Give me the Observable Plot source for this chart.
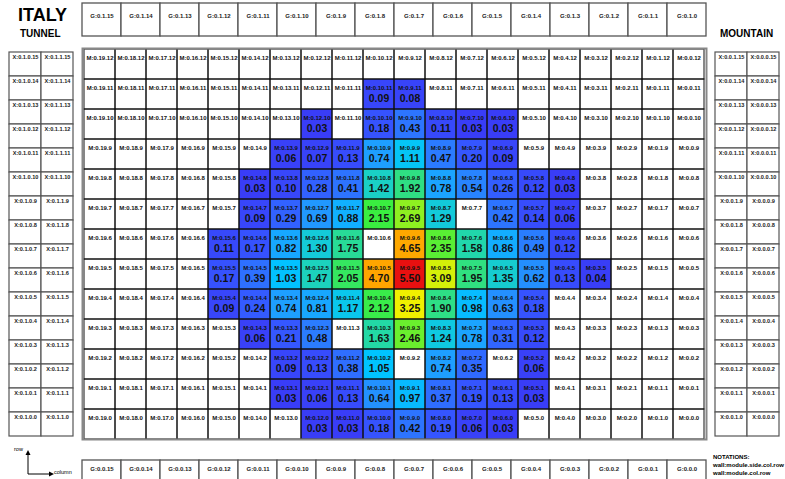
<!DOCTYPE html>
<html><head><meta charset="utf-8">
<script src="https://cdn.jsdelivr.net/npm/d3@7"></script>
<script src="https://cdn.jsdelivr.net/npm/@observablehq/plot@0.6"></script>
<style>
body{margin:0;background:#fff;font-family:"Liberation Sans",Arial,sans-serif;}
#root{position:relative;width:785px;height:479px;overflow:hidden;background:#fff;}
.p{position:absolute;}
.t{position:absolute;font-weight:bold;color:#000;white-space:nowrap;line-height:1;}
</style></head><body><div id="root"></div>
<script>
// ---------- data ----------
const _ = null;
const cols = [19,18,17,16,15,14,13,12,11,10,9,8,7,6,5,4,3,2,1,0];
const rows = [12,11,10,9,8,7,6,5,4,3,2,1,0];
const r12 = [_,_,_,_,_,_,_,_,_,_,_,_,_,_,_,_,_,_,_,_];
const r11 = [_,_,_,_,_,_,_,_,_,0.09,0.08,_,_,_,_,_,_,_,_,_];
const r10 = [_,_,_,_,_,_,_,0.03,_,0.18,0.43,0.11,0.03,0.03,_,_,_,_,_,_];
const r9  = [_,_,_,_,_,_,0.06,0.07,0.13,0.74,1.11,0.47,0.20,0.09,_,_,_,_,_,_];
const r8  = [_,_,_,_,_,0.03,0.10,0.28,0.41,1.42,1.92,0.78,0.54,0.26,0.12,0.03,_,_,_,_];
const r7  = [_,_,_,_,_,0.09,0.29,0.69,0.88,2.15,2.69,1.29,_,0.42,0.14,0.06,_,_,_,_];
const r6  = [_,_,_,_,0.11,0.17,0.82,1.30,1.75,_,4.65,2.35,1.58,0.86,0.49,0.12,_,_,_,_];
const r5  = [_,_,_,_,0.17,0.39,1.03,1.47,2.05,4.70,5.50,3.09,1.95,1.35,0.62,0.13,0.04,_,_,_];
const r4  = [_,_,_,_,0.09,0.24,0.74,0.81,1.17,2.12,3.25,1.90,0.98,0.63,0.18,_,_,_,_,_];
const r3  = [_,_,_,_,_,0.06,0.21,0.48,_,1.63,2.46,1.24,0.78,0.31,0.12,_,_,_,_,_];
const r2  = [_,_,_,_,_,_,0.09,0.13,0.38,1.05,_,0.74,0.35,_,0.06,_,_,_,_,_];
const r1  = [_,_,_,_,_,_,0.03,0.06,0.13,0.64,0.97,0.37,0.19,0.13,0.03,_,_,_,_,_];
const r0  = [_,_,_,_,_,_,_,0.03,0.03,0.18,0.42,0.19,0.06,0.03,_,_,_,_,_,_];
const rowValues = [r12,r11,r10,r9,r8,r7,r6,r5,r4,r3,r2,r1,r0];

const gTop = ["G:0.1.15","G:0.1.14","G:0.1.13","G:0.1.12","G:0.1.11","G:0.1.10","G:0.1.9","G:0.1.8","G:0.1.7","G:0.1.6","G:0.1.5","G:0.1.4","G:0.1.3","G:0.1.2","G:0.1.1","G:0.1.0"];
const gBottom = ["G:0.0.15","G:0.0.14","G:0.0.13","G:0.0.12","G:0.0.11","G:0.0.10","G:0.0.9","G:0.0.8","G:0.0.7","G:0.0.6","G:0.0.5","G:0.0.4","G:0.0.3","G:0.0.2","G:0.0.1","G:0.0.0"];
const sideRows = [15,14,13,12,11,10,9,8,7,6,5,4,3,2,1,0];
const xLeftA = sideRows.map(r => `X:0.1.0.${r}`);
const xLeftB = sideRows.map(r => `X:0.1.1.${r}`);
const xRightA = sideRows.map(r => `X:0.0.1.${r}`);
const xRightB = sideRows.map(r => `X:0.0.0.${r}`);

// ---------- helpers ----------
const root = document.getElementById("root");
const FONT = "'Liberation Sans', Arial, sans-serif";
function place(el, left, top) {
  el.classList.add("p"); el.style.left = left + "px"; el.style.top = top + "px";
  root.appendChild(el);
}
function txt(s, left, top, size, extra) {
  const d = document.createElement("div");
  d.className = "t"; d.textContent = s;
  d.style.left = left + "px"; d.style.top = top + "px"; d.style.fontSize = size + "px";
  if (extra) Object.assign(d.style, extra);
  root.appendChild(d);
}

// ---------- main heatmap ----------
const cells = rows.flatMap((r, i) => cols.map((c, j) => ({
  col: String(c), row: String(r), label: `M:0.${c}.${r}`, v: rowValues[i][j]
})));
const filled = cells.filter(d => d.v != null);

const main = Plot.plot({
  width: 628, height: 395,
  marginTop: 2, marginBottom: 2, marginLeft: 2, marginRight: 2,
  x: {type: "band", domain: cols.map(String), padding: 0, axis: null},
  y: {type: "band", domain: rows.map(String), padding: 0, axis: null},
  color: {
    type: "linear",
    domain: [0, 0.2, 0.45, 0.75, 1.05, 1.3, 1.6, 1.95, 2.15, 2.7, 3.25, 4.7, 5.5],
    range: ["#3a38f5", "#3556ff", "#2c78ff", "#1ea0ff", "#00c4ff", "#14cad8", "#22d8a8", "#30e080", "#3aee40", "#90f020", "#f0f000", "#ffa500", "#e81010"],
    interpolate: "rgb"
  },
  style: {fontFamily: FONT, background: "transparent"},
  marks: [
    Plot.cell(cells, {x: "col", y: "row", fill: "white"}),
    Plot.cell(filled, {x: "col", y: "row", fill: "v"}),
    Plot.cell(cells, {x: "col", y: "row", fill: "none", stroke: "#111", strokeWidth: 1}),
    Plot.frame({stroke: "#888", strokeWidth: 2}),
    Plot.text(cells, {x: "col", y: "row", text: "label", dy: -6, fontSize: 6, fontWeight: "bold", fill: "#111"}),
    Plot.text(filled, {x: "col", y: "row", text: d => d.v.toFixed(2), dy: 4, fontSize: 10.5, fontWeight: "bold", fill: "#111"})
  ]
});
place(main, 80, 46);

// ---------- G boxes ----------
function gPanel(labels, height, dy) {
  return Plot.plot({
    width: 628, height,
    marginTop: 2, marginBottom: 2, marginLeft: 2, marginRight: 2,
    x: {type: "band", domain: labels, padding: 0, axis: null},
    style: {fontFamily: FONT, background: "transparent"},
    marks: [
      Plot.cell(labels, {x: d => d, fill: "white", stroke: "#555", strokeWidth: 1.3}),
      Plot.text(labels, {x: d => d, text: d => d, frameAnchor: "top", dy, fontSize: 6, fontWeight: "bold", fill: "#222"})
    ]
  });
}
place(gPanel(gTop, 37, 10), 80, 1);
place(gPanel(gBottom, 32, 6), 80, 458);

// ---------- X side boxes ----------
function sidePanel(a, b) {
  const data = sideRows.flatMap((r, i) => [
    {c: "a", r: String(r), label: a[i]},
    {c: "b", r: String(r), label: b[i]}
  ]);
  return Plot.plot({
    width: 68, height: 395,
    marginTop: 2, marginBottom: 2, marginLeft: 2, marginRight: 2,
    x: {type: "band", domain: ["a", "b"], padding: 0, axis: null},
    y: {type: "band", domain: sideRows.map(String), padding: 0, axis: null},
    style: {fontFamily: FONT, background: "transparent"},
    marks: [
      Plot.cell(data, {x: "c", y: "r", fill: "white", stroke: "#555", strokeWidth: 1.2}),
      Plot.text(data, {x: "c", y: "r", text: "label", dy: -7, fontSize: 5.6, fontWeight: "bold", fill: "#222"})
    ]
  });
}
place(sidePanel(xLeftA, xLeftB), 7, 46);
place(sidePanel(xRightA, xRightB), 713, 46);

// ---------- titles & notes ----------
txt("ITALY", 18, 6, 18);
txt("TUNNEL", 20, 29, 10);
txt("MOUNTAIN", 720, 29, 10);
txt("row", 14, 447, 5.5, {fontWeight: "normal"});
txt("column", 54, 470, 5.5, {fontWeight: "normal"});
txt("NOTATIONS:", 713, 454, 6);
txt("wall:module.side.col.row", 713, 462, 6);
txt("wall:module.col.row", 713, 470, 6);

const ns = "http://www.w3.org/2000/svg";
const arrow = document.createElementNS(ns, "svg");
arrow.setAttribute("width", 60); arrow.setAttribute("height", 40);
arrow.innerHTML = `
  <path d="M14,6 L14,26 L36,26" fill="none" stroke="#000" stroke-width="1"/>
  <path d="M14,2 L11.5,7 L16.5,7 Z" fill="#000"/>
  <path d="M40,26 L35,23.5 L35,28.5 Z" fill="#000"/>`;
arrow.style.position = "absolute"; arrow.style.left = "14px"; arrow.style.top = "448px";
root.appendChild(arrow);
</script></body></html>
